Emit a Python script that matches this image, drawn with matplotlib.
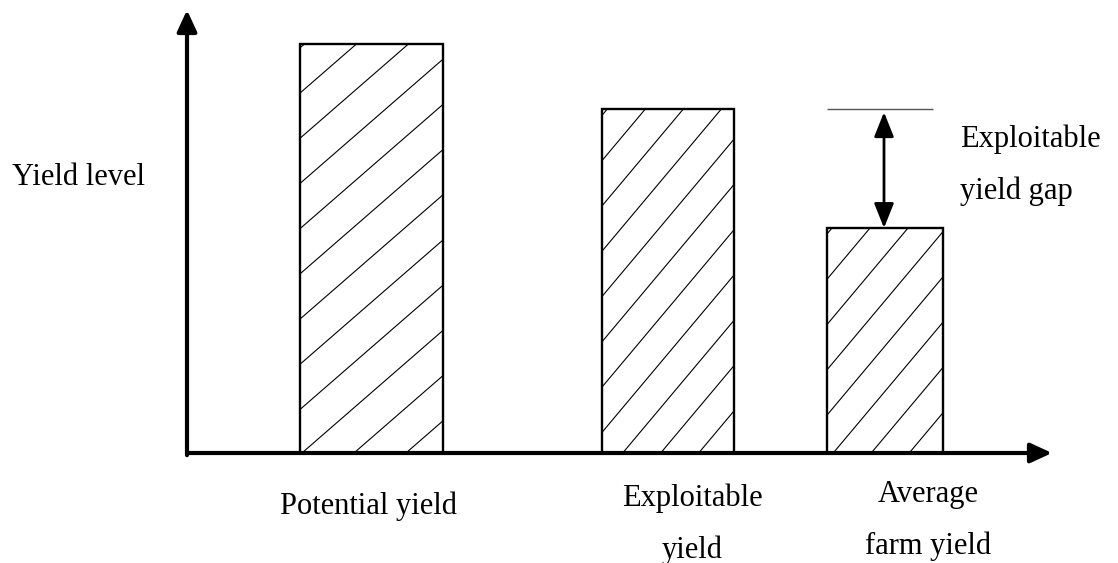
import numpy as np
import matplotlib
matplotlib.use('Agg')
import matplotlib.pyplot as plt

# ── data (relative yield level, potential = 100) ──────────────────────────
categories = ['Potential yield', 'Exploitable\nyield', 'Average\nfarm yield']
yield_level = [100, 84, 55]
gap_label = 'Exploitable\nyield gap'
y_label = 'Yield level'

# ── layout (pixel units of a 1118x563 canvas) ─────────────────────────────
W, H = 1118, 563
X0, Y0 = 187, 453          # axis origin
X1, Y1 = 1052, 10          # arrow tips
bar_centers = [184, 481, 698]
bar_widths = [143, 132, 116]
hatch_angle = [41, 50, 50]
hatch_step = [52, 38, 38]
label_xy = [(368, 514), (692, 506), (928, 502)]
LINE_GAP = 52
FS = 22

plt.rcParams['font.family'] = ['Liberation Serif', 'DejaVu Serif']

fig = plt.figure(figsize=(W / 100, H / 100), dpi=100)
ax = fig.add_axes([X0 / W, (H - Y0) / H, (X1 - X0) / W, (Y0 - Y1) / H])
ax.set_xlim(0, X1 - X0)
YMAX = 108.3
ax.set_ylim(0, YMAX)
ax.axis('off')
px_per_unit = (Y0 - Y1) / YMAX

bars = ax.bar(bar_centers, yield_level, width=bar_widths, facecolor='none',
              edgecolor='black', linewidth=1.7, zorder=3)

# hand-style diagonal hatching, clipped to each bar
for rect, ang, step in zip(bars, hatch_angle, hatch_step):
    xl = rect.get_x()
    xr = xl + rect.get_width()
    h_px = rect.get_height() * px_per_unit
    run = h_px / np.tan(np.radians(ang))
    for xs in np.arange(xl + 5 - run - step * 2, xr + step, step):
        ln, = ax.plot([xs, xs + run + 20], [0, (run + 20) * np.tan(np.radians(ang)) / px_per_unit],
                      color='black', lw=0.8, zorder=2)
        ln.set_clip_path(rect)

# axes arrows
arrow_kw = dict(arrowstyle='-|>,head_length=1.3,head_width=0.6',
                color='black', lw=3, shrinkA=0, shrinkB=0)
ax.annotate('', xy=(0, 1), xytext=(0, -0.005), xycoords='axes fraction',
            textcoords='axes fraction', arrowprops=arrow_kw, annotation_clip=False)
ax.annotate('', xy=(1, 0), xytext=(0, 0), xycoords='axes fraction',
            textcoords='axes fraction', arrowprops=arrow_kw, annotation_clip=False)

# exploitable yield gap marker
avg = bars[2]
ax.hlines(yield_level[1], avg.get_x(), avg.get_x() + avg.get_width() - 10,
          color='#555555', lw=1.0)
gx = bar_centers[2] - 1
ax.annotate('', xy=(gx, yield_level[2]), xytext=(gx, yield_level[1]),
            arrowprops=dict(arrowstyle='<|-|>,head_length=1.5,head_width=0.6',
                            color='black', lw=2.0, shrinkA=2, shrinkB=0))

# texts
def put_lines(txt, x, y, ha):
    for i, line in enumerate(txt.split('\n')):
        fig.text(x / W, 1 - (y + i * LINE_GAP) / H, line, ha=ha, va='baseline',
                 fontsize=FS)

for lab, (lx, ly) in zip(categories, label_xy):
    put_lines(lab, lx, ly, 'center')
put_lines(gap_label, 960, 147, 'left')
put_lines(y_label, 12, 185, 'left')

fig.savefig('out.png', dpi=100)
